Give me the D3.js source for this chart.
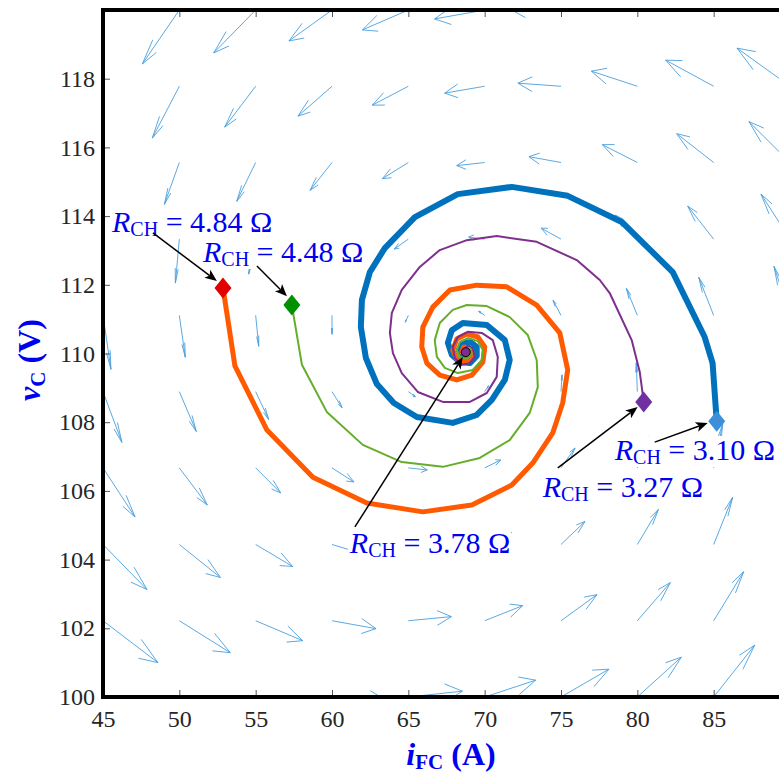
<!DOCTYPE html>
<html>
<head>
<meta charset="utf-8">
<script src="https://cdn.jsdelivr.net/npm/d3@7"></script>
<style>
  body { margin: 0; background: #fff; }
  text { font-family: "Times New Roman", "Liberation Serif", Tinos, Times, serif; }
</style>
</head>
<body>
<svg id="chart" width="779" height="776"></svg>
<script>
// ---- axis ticks ----
const xTicks = [45, 50, 55, 60, 65, 70, 75, 80, 85];
const yTicks = [100, 102, 104, 106, 108, 110, 112, 114, 116, 118];

// ---- direction field on a 10 x 10 grid (rows follow gridV) ----
const gridI = [45, 50, 55, 60, 65, 70, 75, 80, 85, 90];
const gridV = [100, 102.22, 104.44, 106.67, 108.89, 111.11, 113.33, 115.56, 117.78, 120];
const fieldU = [
  [ 4.39,  4.19,  3.93,  3.73,  3.54,  3.34,  3.14,  2.88,  2.69,  2.49],
  [ 3.60,  3.34,  3.08,  2.88,  2.82,  2.49,  2.36,  2.16,  1.97,  1.77],
  [ 2.88,  2.69,  2.42,  2.16,  2.03,  1.77,  1.57,  1.38,  1.24,  1.05],
  [ 2.10,  1.83,  1.64,  1.44,  1.24,  1.05,  0.92,  0.72,  0.59,  0.39],
  [ 1.24,  1.11,  0.85,  0.66,  0.46,  0.26,  0.07, -0.07, -0.20, -0.33],
  [ 0.52,  0.39,  0.20,  0.00, -0.20, -0.39, -0.52, -0.72, -0.98, -1.05],
  [-0.20, -0.26, -0.46, -0.66, -0.92, -1.05, -1.31, -1.44, -1.70, -1.90],
  [-0.92, -0.98, -1.24, -1.44, -1.70, -1.83, -2.10, -2.29, -2.42, -2.69],
  [-1.64, -1.77, -2.03, -2.23, -2.36, -2.62, -2.82, -3.01, -3.14, -3.47],
  [-2.16, -2.42, -2.75, -2.82, -3.01, -3.28, -3.47, -3.67, -3.86, -4.13]
];
const fieldV = [
  [-1.16, -0.84, -0.49, -0.15,  0.17,  0.49,  0.81,  1.16,  1.51,  1.83],
  [-1.22, -0.93, -0.58, -0.23,  0.12,  0.44,  0.76,  1.11,  1.43,  1.78],
  [-1.31, -0.96, -0.64, -0.29,  0.03,  0.35,  0.67,  1.02,  1.37,  1.69],
  [-1.43, -1.08, -0.73, -0.41, -0.06,  0.23,  0.58,  0.93,  1.28,  1.60],
  [-1.48, -1.16, -0.81, -0.47, -0.15,  0.17,  0.49,  0.84,  1.19,  1.51],
  [-1.57, -1.22, -0.90, -0.55, -0.20,  0.12,  0.44,  0.79,  1.11,  1.43],
  [-1.63, -1.28, -1.02, -0.70, -0.29,  0.06,  0.32,  0.70,  0.96,  1.31],
  [-1.66, -1.22, -1.13, -0.81, -0.47, -0.09,  0.17,  0.52,  0.84,  1.19],
  [-1.69, -1.51, -1.19, -0.87, -0.55, -0.20,  0.09,  0.44,  0.76,  1.11],
  [-1.80, -1.57, -1.25, -0.90, -0.58, -0.26,  0.06,  0.41,  0.76,  1.08]
];

// ---- trajectories (iFC [A], vC [V]) for each chopper resistance ----
const rchValues = ["3.10", "3.27", "3.78", "4.48", "4.84"];
const traj310 = [
  [85.20,108.03],[84.93,109.72],[84.41,110.48],[82.32,112.37],[78.98,113.83],[75.44,114.59],
  [71.78,114.85],[68.24,114.64],[65.43,113.97],[63.46,113.07],[62.48,112.37],[61.96,111.56],
  [61.89,110.77],[62.22,109.87],[62.94,109.11],[64.05,108.56],[65.56,108.15],[67.91,107.98],
  [69.48,108.21],[70.47,108.65],[71.32,109.23],[71.64,109.81],[71.32,110.39],[70.14,110.83],
  [68.57,110.89],[67.85,110.68],[67.59,110.31],[67.85,109.96],[68.37,109.75],[69.03,109.72],
  [69.48,109.93],[69.48,110.19],[69.09,110.33],[68.57,110.31],[68.30,110.10],[68.50,109.93],
  [68.90,109.90],[69.09,110.04],[68.90,110.16],[68.70,110.10],[68.76,110.04]
];
const traj327 = [
  [80.42,108.59],[80.16,109.46],[79.63,110.39],[78.19,111.76],[77.54,112.14],[76.03,112.72],
  [73.41,113.25],[70.79,113.42],[68.83,113.30],[67.06,113.01],[65.75,112.52],[64.57,111.85],
  [63.92,111.18],[63.79,110.60],[63.99,110.01],[64.57,109.43],[65.62,108.88],[67.26,108.59],
  [69.03,108.59],[70.14,108.85],[70.79,109.32],[70.86,109.90],[70.53,110.39],[69.81,110.60],
  [68.90,110.63],[68.24,110.48],[67.91,110.19],[68.04,109.87],[68.50,109.67],[69.03,109.72],
  [69.35,109.90],[69.22,110.16],[68.90,110.22],[68.63,110.13],[68.70,109.99],[68.90,109.99],
  [68.76,110.04]
];
const traj378 = [[68.76,110.04]];
const traj448 = [
  [57.37,111.41],[58.03,109.67],[59.66,108.30],[62.02,107.34],[64.57,106.84],[67.26,106.70],
  [69.68,106.96],[71.64,107.48],[72.95,108.27],[73.48,109.02],[73.41,109.81],[72.82,110.54],
  [71.64,111.06],[70.14,111.38],[68.83,111.41],[67.91,111.27],[67.06,110.89],[66.73,110.39],
  [66.87,109.90],[67.39,109.58],[68.24,109.43],[69.22,109.52],[69.81,109.81],[69.88,110.10],
  [69.55,110.36],[68.90,110.45],[68.37,110.33],[68.17,110.10],[68.37,109.90],[68.83,109.84],
  [69.16,109.99],[69.03,110.16],[68.70,110.13],[68.76,110.04]
];
const traj484 = [
  [52.86,111.91],[53.64,109.64],[55.74,107.77],[58.75,106.40],[62.28,105.65],[65.95,105.39],
  [69.16,105.59],[71.78,106.17],[73.15,106.81],[74.46,107.69],[75.11,108.56],[75.44,109.52],
  [74.92,110.60],[73.41,111.41],[71.45,111.94],[69.48,111.99],[67.72,111.85],[66.60,111.35],
  [65.95,110.77],[65.88,110.19],[66.21,109.72],[67.06,109.37],[68.17,109.23],[69.16,109.37],
  [69.88,109.75],[70.01,110.19],[69.55,110.48],[68.83,110.57],[68.17,110.42],[67.91,110.10],
  [68.17,109.84],[68.76,109.75],[69.16,109.93],[69.03,110.16],[68.63,110.19],[68.50,110.04],
  [68.76,109.96],[68.76,110.04]
];

// ---------------------------------------------------------------
const serif = "'Times New Roman', 'Liberation Serif', Tinos, Times, serif";
const svg = d3.select("#chart");
const x = d3.scaleLinear().domain([45, 90]).range([103, 790]);
const y = d3.scaleLinear().domain([100, 120]).range([697, 10]);

svg.append("defs").append("clipPath").attr("id", "plotClip")
  .append("rect").attr("x", x(45)).attr("y", y(120))
  .attr("width", x(90) - x(45)).attr("height", y(100) - y(120));

const plot = svg.append("g").attr("clip-path", "url(#plotClip)");

// direction field arrows (quiver-style heads built in data units)
const alpha = 0.33, beta = 0.23;
const quiver = [];
gridV.forEach((v0, j) => gridI.forEach((u0, i) => {
  quiver.push({ x0: u0, y0: v0, u: fieldU[j][i], v: fieldV[j][i] });
}));
plot.append("g").selectAll("path").data(quiver).join("path")
  .attr("d", q => {
    const tx = q.x0 + q.u, ty = q.y0 + q.v;
    const h1x = tx - alpha * (q.u + beta * q.v), h1y = ty - alpha * (q.v - beta * q.u);
    const h2x = tx - alpha * (q.u - beta * q.v), h2y = ty - alpha * (q.v + beta * q.u);
    return `M${x(q.x0)},${y(q.y0)}L${x(tx)},${y(ty)}` +
           `M${x(h1x)},${y(h1y)}L${x(tx)},${y(ty)}L${x(h2x)},${y(h2y)}`;
  })
  .attr("fill", "none").attr("stroke", "#4a9fde").attr("stroke-width", 0.9);

// trajectories
const line = d3.line().x(d => x(d[0])).y(d => y(d[1]));
const paths = [
  { data: traj310, color: "#0072bd", width: 6 },
  { data: traj484, color: "#ff5a00", width: 5 },
  { data: traj327, color: "#7e2f8e", width: 2 },
  { data: traj448, color: "#66ad2a", width: 2 }
];
plot.append("g").selectAll("path").data(paths).join("path")
  .attr("d", p => line(p.data))
  .attr("fill", "none").attr("stroke", p => p.color)
  .attr("stroke-width", p => p.width).attr("stroke-linejoin", "round");

// starting points
const starts = [
  { p: traj484[0], color: "#e00000" },
  { p: traj448[0], color: "#009000" },
  { p: traj327[0], color: "#7030a0" },
  { p: traj310[0], color: "#3d8fda" }
];
svg.append("g").selectAll("path").data(starts).join("path")
  .attr("d", s => {
    const cx = x(s.p[0]), cy = y(s.p[1]);
    return `M${cx},${cy - 10.5}L${cx + 8.5},${cy}L${cx},${cy + 10.5}L${cx - 8.5},${cy}Z`;
  })
  .attr("fill", s => s.color);
svg.append("circle")
  .attr("cx", x(traj378[0][0])).attr("cy", y(traj378[0][1])).attr("r", 4.5)
  .attr("fill", "#7e2f8e").attr("stroke", "#000").attr("stroke-width", 1);

// axes
const axisColor = "#262626";
const gx = svg.append("g").attr("transform", `translate(0,${y(100)})`)
  .call(d3.axisBottom(x).tickValues(xTicks).tickSize(-7).tickPadding(13).tickFormat(d3.format("d")));
const gxTop = svg.append("g").attr("transform", `translate(0,${y(120)})`)
  .call(d3.axisTop(x).tickValues(xTicks).tickSize(-7).tickFormat(""));
const gy = svg.append("g").attr("transform", `translate(${x(45)},0)`)
  .call(d3.axisLeft(y).tickValues(yTicks).tickSize(-7).tickPadding(8).tickFormat(d3.format("d")));
[gx, gxTop, gy].forEach(g => {
  g.select(".domain").remove();
  g.selectAll(".tick line").attr("stroke", "#555").attr("stroke-width", 1);
  g.selectAll(".tick text").attr("font-size", 24).attr("fill", axisColor)
    .attr("font-family", serif);
});

// frame
svg.append("path")
  .attr("d", `M${x(90)},${y(120)}L${x(45)},${y(120)}L${x(45)},${y(100)}L${x(90)},${y(100)}`)
  .attr("fill", "none").attr("stroke", "#000").attr("stroke-width", 4);

// axis titles
const xt = svg.append("text").attr("x", 451).attr("y", 765)
  .attr("text-anchor", "middle").attr("fill", "#0000f0")
  .attr("font-weight", "bold").attr("font-size", 32);
xt.append("tspan").attr("font-style", "italic").text("i");
xt.append("tspan").attr("font-size", 21).attr("dy", 4).text("FC");
xt.append("tspan").attr("dy", -4).text(" (A)");

const yt = svg.append("text").attr("transform", "translate(40,360) rotate(-90)")
  .attr("text-anchor", "middle").attr("fill", "#0000f0")
  .attr("font-weight", "bold").attr("font-size", 32);
yt.append("tspan").attr("font-style", "italic").text("v");
yt.append("tspan").attr("font-size", 21).attr("dy", 5).text("C");
yt.append("tspan").attr("dy", -5).text(" (V)");

// annotations: label position, arrow tail and arrow tip in data units
const notes = [
  { val: rchValues[4], at: [45.59, 113.54], from: [48.27, 113.51], to: [52.46, 112.11] },
  { val: rchValues[3], at: [51.55, 112.66], from: [55.08, 112.55], to: [57.05, 111.67] },
  { val: rchValues[2], at: [61.17, 104.19], from: [61.50, 104.95], to: [68.57, 109.90] },
  { val: rchValues[1], at: [73.80, 105.82], from: [74.79, 106.67], to: [80.02, 108.44] },
  { val: rchValues[0], at: [78.52, 106.90], from: [81.14, 107.42], to: [84.61, 107.98] }
];
const noteLayer = svg.append("g");
notes.forEach(n => {
  const g = noteLayer.append("g");
  const t = g.append("text").attr("x", x(n.at[0])).attr("y", y(n.at[1]))
    .attr("fill", "#0000f0").attr("font-size", 30);
  t.append("tspan").attr("font-style", "italic").text("R");
  t.append("tspan").attr("font-size", 20).attr("dy", 4).text("CH");
  t.append("tspan").attr("dy", -4).text(" = " + n.val + " \u03A9");
  const bb = t.node().getBBox();
  g.insert("rect", "text").attr("x", bb.x - 1).attr("y", bb.y + 3)
    .attr("width", bb.width + 2).attr("height", bb.height - 4).attr("fill", "#fff");
});
notes.forEach(n => {
  const x1 = x(n.from[0]), y1 = y(n.from[1]), x2 = x(n.to[0]), y2 = y(n.to[1]);
  const ang = Math.atan2(y2 - y1, x2 - x1);
  const L = 12, W = 5, back = 9;
  const ca = Math.cos(ang), sa = Math.sin(ang);
  const bx = x2 - L * ca, by = y2 - L * sa;
  noteLayer.append("line").attr("x1", x1).attr("y1", y1)
    .attr("x2", x2 - back * ca).attr("y2", y2 - back * sa)
    .attr("stroke", "#000").attr("stroke-width", 1.5);
  noteLayer.append("path")
    .attr("d", `M${x2},${y2}L${bx - W * sa},${by + W * ca}L${x2 - back * ca},${y2 - back * sa}L${bx + W * sa},${by - W * ca}Z`)
    .attr("fill", "#000");
});
</script>
</body>
</html>
